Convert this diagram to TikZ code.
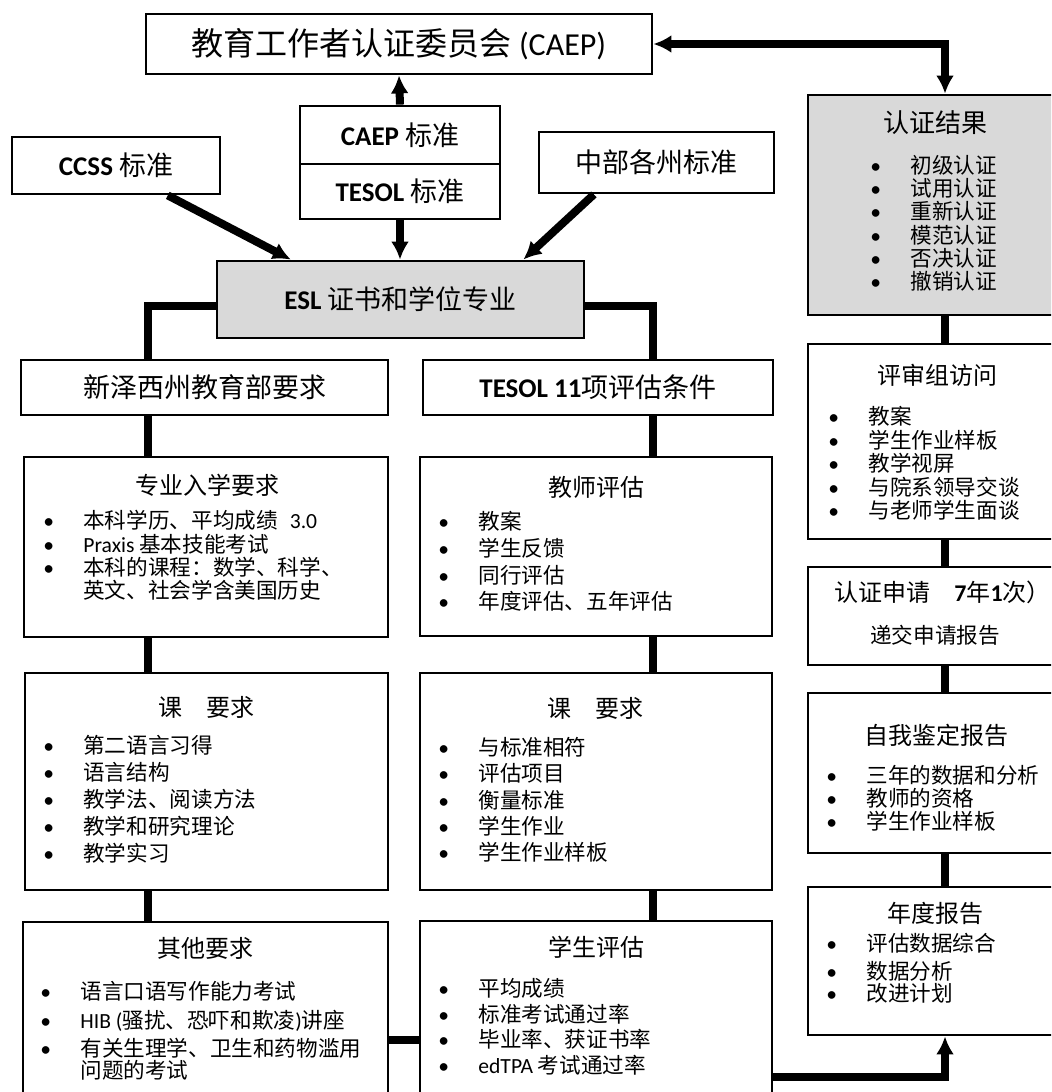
\documentclass[tikz,border=0pt]{standalone}
\usepackage{fontspec}
\setmainfont{Noto Sans CJK SC}
\newfontfamily\lat{Carlito}
\usetikzlibrary{arrows.meta,calc}

\newcommand\bl{\makebox[20pt][l]{\lat\textbullet}}
\newcommand\nb{\makebox[20pt][l]{}}

\tikzset{
  box/.style={draw, line width=1.4pt, inner sep=0pt, font=\fontsize{13.5pt}{16pt}\selectfont},
  shade/.style={box, fill=black!15},
  ttl/.style={inner sep=0pt, font=\fontsize{12pt}{14pt}\selectfont},
  lst/.style={inner sep=0pt, anchor=north west, align=left,
    font=\fontsize{10.8pt}{#1}\selectfont, execute at begin node=\rule{0pt}{10pt}},
  lst/.default=11.7pt,
  link/.style={line width=4pt},
  arr/.style={link, -{Latex[length=9pt,width=9pt]}},
  arrs/.style={link, {Latex[length=9pt,width=9pt]}-{Latex[length=9pt,width=9pt]}},
}

\begin{document}
\begin{tikzpicture}[x=0.5pt,y=-0.5pt]
\useasboundingbox (0,0) rectangle (1051,1092);
\clip (0,0) rectangle (1051,1092);

% standards
\node[box, minimum width=253pt, minimum height=30pt, font=\fontsize{16pt}{19pt}\selectfont] (caep) at (399,44) {教育工作者认证委员会 {\lat (CAEP)}};
\node[box, minimum width=100pt, minimum height=29pt] (caepstd) at (400,135) {{\lat\bfseries CAEP} 标准};
\node[box, minimum width=100pt, minimum height=27.5pt] (tesolstd) at (400,191.5) {{\lat\bfseries TESOL} 标准};
\node[box, minimum width=104pt, minimum height=28.5pt] (ccss) at (116,165.5) {{\lat\bfseries CCSS} 标准};
\node[box, minimum width=117.5pt, minimum height=30.5pt] (midstate) at (656.5,162.5) {中部各州标准};
\node[shade, minimum width=183.5pt, minimum height=38.5pt] (esl) at (400.5,299.5) {{\lat\bfseries ESL} 证书和学位专业};

\node[box, minimum width=183.5pt, minimum height=27.5pt] (nj) at (204.5,387.5) {新泽西州教育部要求};
\node[box, minimum width=175pt, minimum height=27.5pt] (tesol11) at (598,387.5) {{\lat\bfseries TESOL 11}项评估条件};

% left column
\node[box, minimum width=182pt, minimum height=90pt] (adm) at (206,547) {};
\node[ttl] (admT) at (207,485) {专业入学要求};
\node[lst=11.65pt] (admL) at (43,510) {\bl 本科学历、平均成绩\hspace{6pt}{\lat 3.0}\\
  \bl{\lat Praxis} 基本技能考试\\
  \bl 本科的课程：数学、科学、\\
  \nb 英文、社会学含美国历史};

\node[box, minimum width=181.5pt, minimum height=108.5pt] (coursel) at (206.5,781.5) {};
\node[ttl] (courselT) at (206.5,707) {课\hspace{12pt}要求};
\node[lst=13.5pt] (courselL) at (43,735) {\bl 第二语言习得\\ \bl 语言结构\\ \bl 教学法、阅读方法\\
  \bl 教学和研究理论\\ \bl 教学实习};

\node[box, minimum width=182.5pt, minimum height=91.5pt] (other) at (205.5,1013.5) {};
\node[ttl] (otherT) at (205,948) {其他要求};
\node[lst=11pt] (otherL) at (40,981) {\bl 语言口语写作能力考试\\[3.5pt]
  \bl{\lat HIB (}骚扰、恐吓和欺凌{\lat )}讲座\\[3pt]
  \bl 有关生理学、卫生和药物滥用\\
  \nb 问题的考试};

% middle column
\node[box, minimum width=176pt, minimum height=89.5pt] (teach) at (596,546.5) {};
\node[ttl] (teachT) at (596,487) {教师评估};
\node[lst=13.35pt] (teachL) at (438,511) {\bl 教案\\ \bl 学生反馈\\ \bl 同行评估\\ \bl 年度评估、五年评估};

\node[box, minimum width=176pt, minimum height=108.5pt] (courser) at (596,781.5) {};
\node[ttl] (courserT) at (595.5,708) {课\hspace{12pt}要求};
\node[lst=13.1pt] (courserL) at (438,737) {\bl 与标准相符\\ \bl 评估项目\\ \bl 衡量标准\\
  \bl 学生作业\\ \bl 学生作业样板};

\node[box, minimum width=176pt, minimum height=92pt] (stu) at (596,1013) {};
\node[ttl] (stuT) at (596.5,947) {学生评估};
\node[lst=12.85pt] (stuL) at (438,978) {\bl 平均成绩\\ \bl 标准考试通过率\\ \bl 毕业率、获证书率\\
  \bl{\lat edTPA} 考试通过率};

% accreditation
\node[shade, minimum width=137pt, minimum height=110pt] (result) at (945,205) {};
\node[ttl, font=\fontsize{13pt}{15pt}\selectfont] (resultT) at (935,123) {认证结果};
\node[lst=11.6pt] (resultL) at (870,155) {\bl 初级认证\\ \bl 试用认证\\ \bl 重新认证\\
  \bl 模范认证\\ \bl 否决认证\\ \bl 撤销认证};

\node[box, minimum width=137pt, minimum height=97.5pt] (visit) at (945,441.5) {};
\node[ttl] (visitT) at (937,375) {评审组访问};
\node[lst=11.75pt] (visitL) at (828,406) {\bl 教案\\ \bl 学生作业样板\\ \bl 教学视屏\\
  \bl 与院系领导交谈\\ \bl 与老师学生面谈};

\node[box, minimum width=137pt, minimum height=49pt] (apply) at (945,616) {};
\node[ttl, anchor=west] (applyT) at (834,592) {认证申请\hspace{12pt}{\lat\bfseries 7}年{\lat\bfseries 1}次）};
\node[ttl, font=\fontsize{10.8pt}{13pt}\selectfont] (applyS) at (935,635) {递交申请报告};

\node[box, minimum width=137pt, minimum height=80pt] (self) at (945,773) {};
\node[ttl] (selfT) at (936.5,735) {自我鉴定报告};
\node[lst=11.5pt] (selfL) at (826,765) {\bl 三年的数据和分析\\ \bl 教师的资格\\ \bl 学生作业样板};

\node[box, minimum width=137pt, minimum height=74pt] (annual) at (945,961) {};
\node[ttl] (annualT) at (935,913) {年度报告};
\node[lst=11pt] (annualL) at (826,933) {\bl 评估数据综合\\[3pt] \bl 数据分析\\ \bl 改进计划};

% connectors
\coordinate (lc) at (148,0);
\coordinate (mc) at (653,0);
\draw[arr] (caepstd.north) -- (caep.south);
\draw[arr] (tesolstd.south) -- (tesolstd.south |- esl.north);
\draw[arr] (ccss.-30) -- (esl.160);
\draw[arr] (midstate.207) -- (esl.18);
\draw[link] ([yshift=-3pt]esl.west) -| (nj.north -| lc);
\draw[link] ([yshift=-3pt]esl.east) -| (tesol11.north -| mc);
\draw[link] (nj.south -| lc) -- (adm.north -| lc);
\draw[link] (adm.south -| lc) -- (coursel.north -| lc);
\draw[link] (coursel.south -| lc) -- (other.north -| lc);
\draw[link] (tesol11.south -| mc) -- (teach.north -| mc);
\draw[link] (teach.south -| mc) -- (courser.north -| mc);
\draw[link] (courser.south -| mc) -- (stu.north -| mc);
\draw[link] ([yshift=-13pt]other.east) -- ([yshift=-13pt]other.east -| stu.west);
\draw[arrs] (result.north) |- (caep.east);
\draw[link] (result.south) -- (visit.north);
\draw[link] (visit.south) -- (apply.north);
\draw[link] (apply.south) -- (self.north);
\draw[link] (self.south) -- (annual.north);
\draw[arr] ([yshift=-32pt]stu.east) -| (annual.south);
\end{tikzpicture}
\end{document}
